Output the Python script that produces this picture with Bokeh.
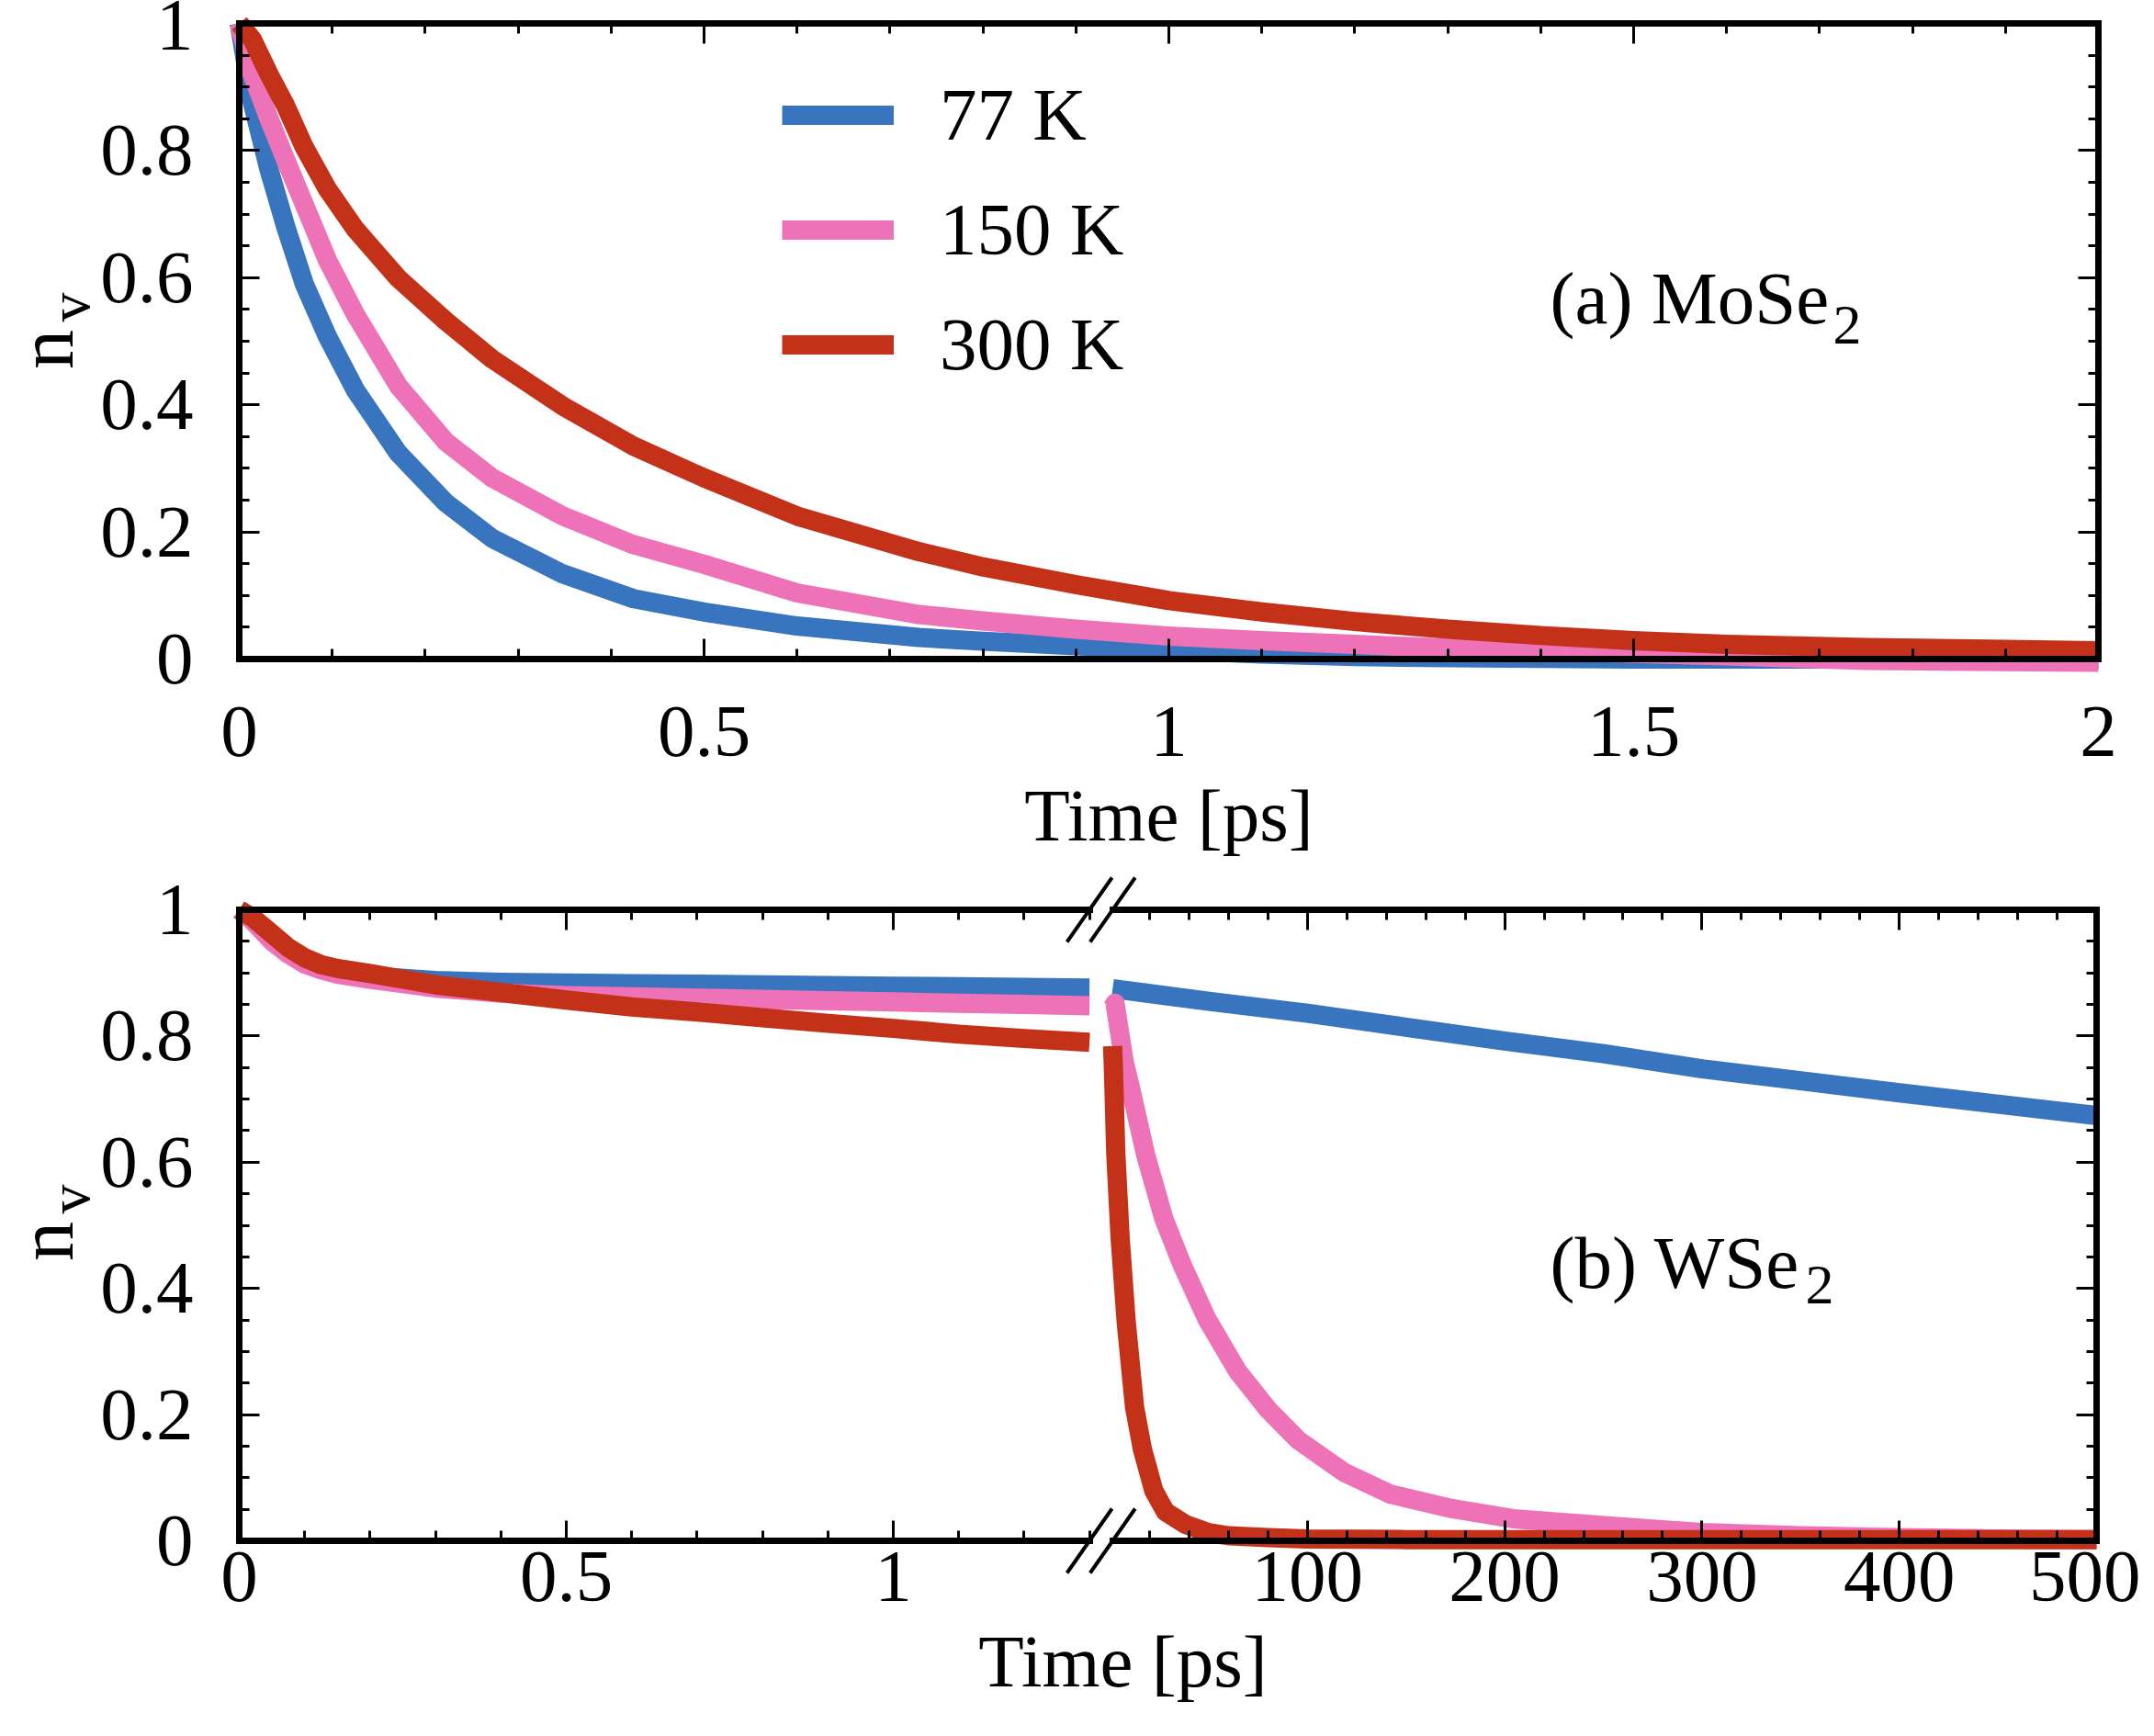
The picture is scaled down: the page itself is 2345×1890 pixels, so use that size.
import math
import numpy as np
from bokeh.plotting import figure
from bokeh.models import Range1d, LinearAxis, FixedTicker, Label, Legend, LegendItem, Arrow
from bokeh.layouts import column
from bokeh.embed import file_html
from bokeh.resources import INLINE

FONT = "Liberation Serif"
FS = "81px"
SUB_FS = "62px"
BLUE, PINK, RED = "#3875be", "#ee72b8", "#c33218"
series_labels = ["77 K", "150 K", "300 K"]
colors = [BLUE, PINK, RED]

# ---------------- panel (a) MoSe2 ----------------
t_a = [0.0, 0.014, 0.032, 0.05, 0.07, 0.095, 0.125, 0.171, 0.222, 0.272, 0.348, 0.424,
       0.5, 0.6, 0.731, 0.8, 0.9, 1.0, 1.1, 1.2, 1.3, 1.4, 1.5, 1.6, 1.75, 1.9, 2.0]
a_77 = [1.0, 0.876, 0.770, 0.680, 0.590, 0.507, 0.423, 0.324, 0.246, 0.190, 0.134, 0.095,
        0.074, 0.052, 0.034, 0.028, 0.021, 0.014, 0.008, 0.004, 0.002, 0.001, 0.0, 0.0, 0.0, 0.0, 0.0]
a_150 = [1.0, 0.920, 0.850, 0.785, 0.715, 0.627, 0.542, 0.430, 0.342, 0.285, 0.225, 0.180,
         0.149, 0.104, 0.070, 0.060, 0.047, 0.036, 0.029, 0.023, 0.017, 0.013, 0.009, 0.005, -0.002, -0.004, -0.005]
a_300 = [1.0, 0.975, 0.920, 0.870, 0.805, 0.739, 0.676, 0.599, 0.532, 0.472, 0.398, 0.335,
         0.285, 0.225, 0.169, 0.145, 0.117, 0.092, 0.074, 0.059, 0.047, 0.037, 0.029, 0.023, 0.018, 0.015, 0.013]

# ---------------- panel (b) WSe2, left part (0 - 1.3 ps) ----------------
tb_left = [0.0, 0.02, 0.05, 0.075, 0.1, 0.125, 0.15, 0.2, 0.3, 0.4, 0.5, 0.6, 0.7, 0.8, 0.9,
           1.0, 1.1, 1.2, 1.3]
b_left_77 = [1.0, 0.985, 0.955, 0.936, 0.921, 0.910, 0.903, 0.895, 0.888, 0.885, 0.884, 0.883,
             0.882, 0.881, 0.880, 0.879, 0.878, 0.877, 0.876]
b_left_150 = [1.0, 0.983, 0.950, 0.930, 0.914, 0.905, 0.898, 0.890, 0.876, 0.868, 0.864, 0.862,
              0.860, 0.858, 0.856, 0.854, 0.852, 0.850, 0.848]
b_left_300 = [1.0, 0.988, 0.962, 0.940, 0.924, 0.913, 0.907, 0.899, 0.881, 0.869, 0.857, 0.846,
              0.838, 0.829, 0.820, 0.812, 0.803, 0.796, 0.790]

# ---------------- panel (b) WSe2, right part (1.3 - 500 ps) ----------------
tb_r_77 = [1.3, 50, 100, 150, 200, 250, 300, 350, 400, 450, 500]
b_r_77 = [0.875, 0.855, 0.836, 0.814, 0.792, 0.772, 0.748, 0.729, 0.710, 0.692, 0.674]
tb_r_150 = [1.3, 2.5, 7.1, 10.2, 18.0, 27.3, 36.6, 49.0, 64.6, 80.1, 95.6, 118.9, 142.1,
            173.2, 204.2, 229, 260, 300, 350, 400, 450, 500]
b_r_150 = [0.845, 0.852, 0.760, 0.720, 0.612, 0.510, 0.437, 0.352, 0.269, 0.208, 0.159, 0.108,
           0.074, 0.051, 0.035, 0.029, 0.022, 0.013, 0.008, 0.005, 0.003, 0.002]
tb_r_300 = [1.3, 1.7, 2.9, 5.1, 8.2, 12.4, 16.4, 22.2, 28.1, 38.2, 50, 60, 80, 100, 150,
            200, 300, 400, 500]
b_r_300 = [0.784, 0.747, 0.614, 0.480, 0.346, 0.212, 0.145, 0.079, 0.046, 0.026, 0.013,
           0.008, 0.005, 0.003, 0.002, 0.002, 0.002, 0.002, 0.002]

# ---------------- ticks ----------------
y_ticks = [0, 0.2, 0.4, 0.6, 0.8, 1]
y_tick_labels = ["0", "0.2", "0.4", "0.6", "0.8", "1"]
x_ticks_a = [0, 0.5, 1, 1.5, 2]
x_tick_labels_a = ["0", "0.5", "1", "1.5", "2"]
x_ticks_b_left = [0, 0.5, 1]
x_tick_labels_b_left = ["0", "0.5", "1"]
x_ticks_b_right = [100, 200, 300, 400, 500]
x_tick_labels_b_right = ["100", "200", "300", "400", "500"]
BREAK_T = 1.3
T_END = 500

y_minor = [round(v, 3) for v in np.arange(0, 1.0001, 0.05)]
x_minor_a = [round(v, 3) for v in np.arange(0, 2.0001, 0.1)]
x_minor_b_left = [round(v, 3) for v in np.arange(0, BREAK_T + 0.0001, 0.1)]
x_minor_b_right = list(range(20, 500, 20))

# ---------------- page layout (pixels) ----------------
CANVAS_W = 2330
P1_H, P2_H = 940, 948          # canvas heights; panel (b) canvas starts at page y = P1_H
BOX_L = 260                     # left edge of both plot boxes
BOX1_R, BOX1_T, BOX1_B = 2284, 25, 717
BOX2_R, BOX2_T, BOX2_B = 2282, 990, 1677
BREAK_L_PX, BREAK_R_PX = 1185.6, 1210.8   # end of left part / start of right part
LW = 21
YT_FS, YT_SUB_FS = "86px", "64px"        # y-axis title n_v


def lin(v0, p0, v1, p1):
    k = (v1 - v0) / (p1 - p0)
    return lambda p: v0 + (p - p0) * k


def style_axis(ax, labels=False, standoff=0, tick_in=None, line=True):
    ax.axis_line_width = 7
    ax.axis_line_color = "black" if line else None
    ax.axis_line_cap = "square"
    ax.major_tick_in = 22
    ax.major_tick_out = 0
    ax.minor_tick_in = 11 if tick_in is None else tick_in
    ax.minor_tick_out = 0
    ax.major_tick_line_width = 3
    ax.minor_tick_line_width = 3
    ax.major_tick_line_color = "black"
    ax.minor_tick_line_color = "black"
    if labels:
        ax.major_label_text_font = FONT
        ax.major_label_text_font_size = FS
        ax.major_label_text_color = "black"
        ax.major_label_standoff = standoff


def main_axis(p, side, loc, ticks, tick_labels, minor, bounds, standoff, rng=None):
    kw = {"x_range_name": rng} if rng else {}
    ax = LinearAxis(ticker=FixedTicker(ticks=ticks, minor_ticks=minor), fixed_location=loc,
                    bounds=bounds, major_label_overrides=dict(zip(ticks, tick_labels)), **kw)
    style_axis(ax, True, standoff)
    p.add_layout(ax, side)


def mirror_axis(p, side, loc, ticks, minor, bounds, rng=None):
    # ticks only (no labels): long ticks at the major positions, short ones at minor positions
    kw = {"x_range_name": rng} if rng else {}
    a1 = LinearAxis(ticker=FixedTicker(ticks=[], minor_ticks=list(ticks)), fixed_location=loc,
                    bounds=bounds, **kw)
    style_axis(a1, tick_in=22)
    p.add_layout(a1, side)
    a2 = LinearAxis(ticker=FixedTicker(ticks=[], minor_ticks=list(minor)), fixed_location=loc,
                    bounds=bounds, **kw)
    style_axis(a2, tick_in=11, line=False)
    p.add_layout(a2, side)


def make_fig(h, x_range, y_range):
    p = figure(frame_width=CANVAS_W, frame_height=h, x_range=x_range, y_range=y_range,
               x_axis_location=None, y_axis_location=None, title=None,
               output_backend="svg", toolbar_location=None,
               min_border_left=0, min_border_right=0, min_border_top=0, min_border_bottom=0)
    p.outline_line_color = None
    p.xgrid.visible = False
    p.ygrid.visible = False
    p.background_fill_color = "white"
    p.border_fill_color = "white"
    return p


def add_label(p, text, page_x, page_y, canvas_top, canvas_h, size=FS, align="left", angle=0.0):
    p.add_layout(Label(x=page_x, y=canvas_h - (page_y - canvas_top), x_units="screen",
                       y_units="screen", text=text, text_font=FONT, text_font_size=size,
                       text_color="black", text_align=align, text_baseline="middle",
                       angle=angle))


# ================= panel (a) =================
fx1 = lin(0, BOX_L, 2, BOX1_R)
fy1 = lin(1, BOX1_T, 0, BOX1_B)
p1 = make_fig(P1_H, Range1d(fx1(0), fx1(CANVAS_W)), Range1d(fy1(P1_H), fy1(0)))

main_axis(p1, "below", 0, x_ticks_a, x_tick_labels_a, x_minor_a, (0, 2), 52)
mirror_axis(p1, "above", 1, x_ticks_a, x_minor_a, (0, 2))
main_axis(p1, "left", 0, y_ticks, y_tick_labels, y_minor, (0, 1), 50)
mirror_axis(p1, "right", 2, y_ticks, y_minor, (0, 1))

renderers = []
for ys, c in zip([a_77, a_150, a_300], colors):
    renderers.append(p1.line(t_a, ys, line_color=c, line_width=LW, line_join="round"))

legend = Legend(items=[LegendItem(label=l, renderers=[r]) for l, r in zip(series_labels, renderers)],
                location=(851, P1_H - 425), orientation="vertical", glyph_width=122, glyph_height=100,
                label_height=100, spacing=25, padding=0, margin=0, label_standoff=50,
                border_line_color=None, background_fill_alpha=0,
                label_text_font=FONT, label_text_font_size=FS, label_text_color="black")
p1.add_layout(legend)

add_label(p1, "Time [ps]", (BOX_L + BOX1_R) / 2, 887, 0, P1_H, align="center")
add_label(p1, "n", 49, 380, 0, P1_H, size=YT_FS, align="center", angle=math.pi / 2)
add_label(p1, "v", 75, 334, 0, P1_H, size=YT_SUB_FS, align="center", angle=math.pi / 2)
add_label(p1, "(a) MoSe", 1687, 324, 0, P1_H)
add_label(p1, "2", 1995, 353, 0, P1_H, size=SUB_FS)

# ================= panel (b) =================
fxl = lin(0, BOX_L, BREAK_T, BREAK_L_PX)
fxr = lin(BREAK_T, BREAK_R_PX, T_END, BOX2_R)
fy2 = lin(1, BOX2_T - P1_H, 0, BOX2_B - P1_H)
p2 = make_fig(P2_H, Range1d(fxl(0), fxl(CANVAS_W)), Range1d(fy2(P2_H), fy2(0)))
p2.extra_x_ranges = {"right": Range1d(fxr(0), fxr(CANVAS_W))}

main_axis(p2, "below", 0, x_ticks_b_left, x_tick_labels_b_left, x_minor_b_left, (0, BREAK_T), 12)
mirror_axis(p2, "above", 1, x_ticks_b_left, x_minor_b_left, (0, BREAK_T))
main_axis(p2, "below", 0, x_ticks_b_right, x_tick_labels_b_right, x_minor_b_right,
          (BREAK_T, T_END), 12, rng="right")
mirror_axis(p2, "above", 1, x_ticks_b_right, x_minor_b_right, (BREAK_T, T_END), rng="right")
main_axis(p2, "left", 0, y_ticks, y_tick_labels, y_minor, (0, 1), 50)
mirror_axis(p2, "right", T_END, y_ticks, y_minor, (0, 1), rng="right")

for ys, c in zip([b_left_77, b_left_150, b_left_300], colors):
    p2.line(tb_left, ys, line_color=c, line_width=LW, line_join="round")
for ts, ys, c in zip([tb_r_77, tb_r_150, tb_r_300], [b_r_77, b_r_150, b_r_300], colors):
    p2.line(ts, ys, line_color=c, line_width=LW, line_join="round", x_range_name="right")

# axis-break marks "//" (half-size in pixels: 24.5 wide, 35 high)
dy = 35 / (BOX2_B - BOX2_T)
for yy in (0, 1):
    for rng, f in ((None, fxl), ("right", fxr)):
        dx = 24.5 * (f(1000) - f(0)) / 1000
        kw = {} if rng is None else {"x_range_name": rng}
        p2.add_layout(Arrow(end=None, x_start=BREAK_T - dx, y_start=yy - dy,
                            x_end=BREAK_T + dx, y_end=yy + dy,
                            line_color="black", line_width=4, **kw))

add_label(p2, "Time [ps]", 1222, 1808, P1_H, P2_H, align="center")
add_label(p2, "n", 49, 1351, P1_H, P2_H, size=YT_FS, align="center", angle=math.pi / 2)
add_label(p2, "v", 75, 1305, P1_H, P2_H, size=YT_SUB_FS, align="center", angle=math.pi / 2)
add_label(p2, "(b) WSe", 1687, 1374, P1_H, P2_H)
add_label(p2, "2", 1965, 1398, P1_H, P2_H, size=SUB_FS)

layout = column(p1, p2)
open("out.html", "w").write(file_html(layout, INLINE))
